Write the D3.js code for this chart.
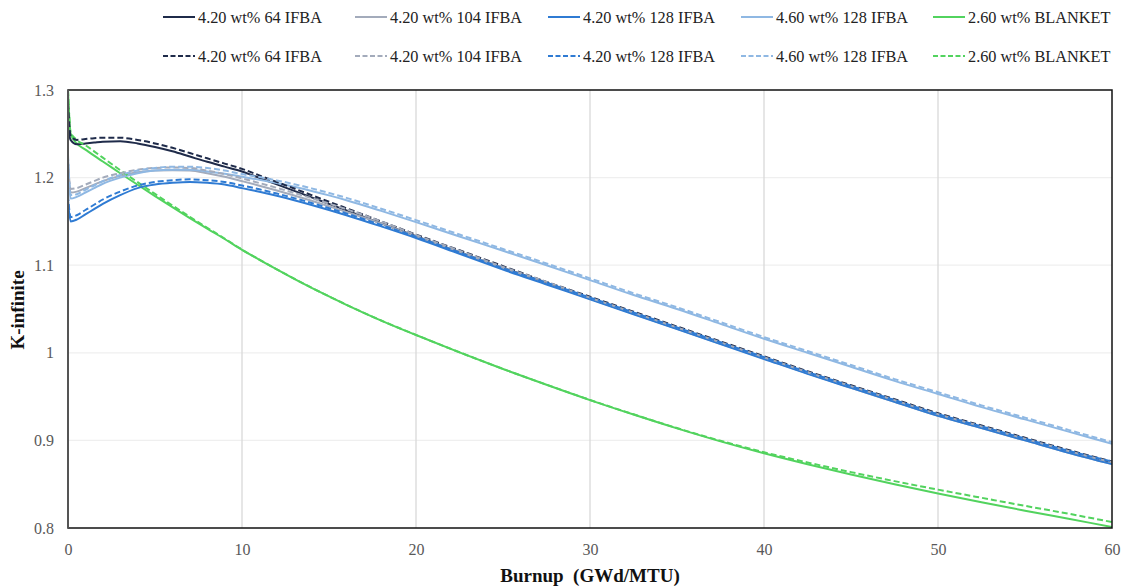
<!DOCTYPE html>
<html><head><meta charset="utf-8">
<script src="https://cdnjs.cloudflare.com/ajax/libs/d3/7.8.5/d3.min.js"></script>
<style>
html,body{margin:0;padding:0;background:#fff;}
svg text{font-family:"Liberation Serif","Times New Roman",serif;}
</style>
</head><body>
<svg id="chart" width="1124" height="588"></svg>
<script>
const burnup = [0,0.15,0.5,1,1.5,2,3,4,5,6,7,8,9,10,11,12,13,14,15,16,18,20,22.5,25,27.5,30,32.5,35,37.5,40,42.5,45,47.5,50,52.5,55,57.5,60];

const ifba64Solid  = [1.258,1.243,1.238,1.239,1.240,1.241,1.2415,1.239,1.235,1.230,1.224,1.218,1.2125,1.207,1.1996,1.1922,1.1848,1.1774,1.170,1.1626,1.1478,1.133,1.115,1.097,1.080,1.062,1.045,1.028,1.011,0.994,0.977,0.961,0.945,0.929,0.915,0.901,0.887,0.874];
const ifba64Dash   = [1.285,1.248,1.243,1.244,1.245,1.2455,1.2455,1.243,1.239,1.234,1.228,1.222,1.216,1.210,1.2025,1.195,1.1875,1.180,1.1725,1.165,1.150,1.135,1.117,1.099,1.081,1.064,1.047,1.030,1.013,0.996,0.979,0.963,0.947,0.931,0.917,0.903,0.889,0.876];
const ifba104Solid = [1.215,1.183,1.184,1.188,1.192,1.196,1.202,1.206,1.208,1.2085,1.208,1.205,1.201,1.196,1.1908,1.1853,1.1795,1.1735,1.1673,1.1609,1.1477,1.1325,1.1148,1.0968,1.0792,1.0615,1.0444,1.0274,1.0104,0.9934,0.9765,0.960,0.944,0.928,0.914,0.900,0.886,0.873];
const ifba104Dash  = [1.220,1.187,1.188,1.192,1.196,1.200,1.205,1.209,1.211,1.2115,1.211,1.208,1.204,1.199,1.1938,1.1883,1.1825,1.1765,1.1703,1.1639,1.150,1.1345,1.1165,1.098,1.081,1.063,1.046,1.029,1.012,0.995,0.978,0.962,0.946,0.930,0.916,0.902,0.888,0.875];
const ifba128Solid = [1.175,1.150,1.152,1.158,1.164,1.170,1.180,1.188,1.192,1.194,1.195,1.194,1.192,1.188,1.1838,1.1792,1.1742,1.1688,1.1631,1.1571,1.1443,1.131,1.113,1.095,1.078,1.061,1.044,1.027,1.010,0.993,0.976,0.960,0.944,0.928,0.914,0.900,0.886,0.873];
const ifba128Dash  = [1.180,1.155,1.157,1.163,1.169,1.175,1.184,1.191,1.195,1.197,1.198,1.197,1.195,1.191,1.1866,1.1818,1.1766,1.171,1.1651,1.159,1.1459,1.1325,1.1145,1.0965,1.080,1.063,1.046,1.029,1.012,0.995,0.978,0.962,0.946,0.930,0.916,0.902,0.888,0.876];
const e460Solid    = [1.222,1.176,1.178,1.183,1.188,1.193,1.200,1.205,1.208,1.209,1.209,1.207,1.2045,1.201,1.1976,1.1938,1.1895,1.1848,1.1797,1.1742,1.162,1.1492,1.1327,1.1165,1.100,1.083,1.066,1.050,1.033,1.016,1.000,0.984,0.968,0.953,0.938,0.924,0.910,0.896];
const e460Dash     = [1.226,1.180,1.181,1.186,1.191,1.196,1.203,1.208,1.211,1.2125,1.2125,1.211,1.208,1.204,1.2006,1.1968,1.1925,1.1877,1.1825,1.1769,1.1645,1.1515,1.135,1.1185,1.102,1.085,1.068,1.052,1.035,1.018,1.002,0.986,0.970,0.955,0.940,0.926,0.912,0.898];
const blanketSolid = [1.300,1.250,1.239,1.232,1.225,1.2184,1.205,1.1918,1.1789,1.1662,1.1538,1.1417,1.1299,1.1175,1.1062,1.0952,1.0845,1.0742,1.0643,1.0548,1.0368,1.0203,1.0005,0.9815,0.9635,0.946,0.9295,0.9137,0.8989,0.8853,0.8728,0.861,0.850,0.8395,0.8295,0.8198,0.8105,0.8012];
const blanketDash  = [1.300,1.252,1.243,1.237,1.230,1.2228,1.2085,1.1948,1.1814,1.1682,1.1553,1.1427,1.1305,1.1178,1.1064,1.0953,1.0846,1.0743,1.0644,1.0549,1.0369,1.0204,1.0006,0.9816,0.9636,0.9462,0.9298,0.9141,0.8996,0.8865,0.8748,0.8638,0.8535,0.8438,0.8345,0.8253,0.8163,0.8068];

const seriesNames = ["4.20 wt% 64 IFBA","4.20 wt% 104 IFBA","4.20 wt% 128 IFBA","4.60 wt% 128 IFBA","2.60 wt% BLANKET"];
const seriesColors = ["#1f2b4a","#a3abbb","#2f7bd3","#8fb8e3","#52d35e"];
const solidValues = [ifba64Solid, ifba104Solid, ifba128Solid, e460Solid, blanketSolid];
const dashValues  = [ifba64Dash, ifba104Dash, ifba128Dash, e460Dash, blanketDash];

const xTicks = [0,10,20,30,40,50,60];
const yTicks = [0.8,0.9,1.0,1.1,1.2,1.3];
const yTickLabels = ["0.8","0.9","1","1.1","1.2","1.3"];

const svg = d3.select("#chart");
const L = 68, R = 1112, T = 90, B = 528;
const x = d3.scaleLinear().domain([0,60]).range([L,R]);
const y = d3.scaleLinear().domain([0.8,1.3]).range([B,T]);

// grid
svg.append("g").selectAll("line").data(yTicks.slice(1,-1)).join("line")
  .attr("x1",L).attr("x2",R).attr("y1",d=>y(d)).attr("y2",d=>y(d))
  .attr("stroke","#efefef").attr("stroke-width",1.2);
svg.append("g").selectAll("line").data(xTicks.slice(1,-1)).join("line")
  .attr("x1",d=>x(d)).attr("x2",d=>x(d)).attr("y1",T).attr("y2",B)
  .attr("stroke","#d9d9d9").attr("stroke-width",1.3);

// axes labels via d3 axes
const xAxis = svg.append("g").attr("transform",`translate(0,${B})`)
  .call(d3.axisBottom(x).tickValues(xTicks).tickSize(0).tickPadding(16).tickFormat(d3.format("d")));
xAxis.select(".domain").remove();
xAxis.selectAll("text").attr("font-size",16).attr("fill","#595959")
  .style("font-family","'Liberation Serif',serif");

const yAxis = svg.append("g").attr("transform",`translate(${L},0)`)
  .call(d3.axisLeft(y).tickValues(yTicks).tickSize(0).tickPadding(14).tickFormat((d,i)=>yTickLabels[i]));
yAxis.select(".domain").remove();
yAxis.selectAll("text").attr("font-size",16).attr("fill","#595959")
  .style("font-family","'Liberation Serif',serif");

// lines
svg.append("clipPath").attr("id","clp").append("rect")
  .attr("x",L).attr("y",T-1).attr("width",R-L).attr("height",B-T+2);
const lineGen = d3.line().x((d,i)=>x(burnup[i])).y(d=>y(d)).curve(d3.curveMonotoneX);
const plotG = svg.append("g").attr("clip-path","url(#clp)");
const order = [4,0,1,3,2];
order.forEach(i=>{
  plotG.append("path").datum(solidValues[i]).attr("d",lineGen)
    .attr("fill","none").attr("stroke",seriesColors[i]).attr("stroke-width",2);
});
order.forEach(i=>{
  plotG.append("path").datum(dashValues[i]).attr("d",lineGen)
    .attr("fill","none").attr("stroke",seriesColors[i]).attr("stroke-width",2)
    .attr("stroke-dasharray","6,3");
});

// frame
svg.append("rect").attr("x",L).attr("y",T).attr("width",R-L).attr("height",B-T)
  .attr("fill","none").attr("stroke","#111").attr("stroke-width",1.5);
svg.append("line").attr("x1",L).attr("x2",L).attr("y1",T).attr("y2",B)
  .attr("stroke","#555").attr("stroke-width",2);

// axis titles
svg.append("text").attr("x",(L+R)/2).attr("y",582).attr("text-anchor","middle")
  .attr("font-size",19).attr("font-weight","bold").attr("fill","#111")
  .text("Burnup\u00a0 (GWd/MTU)");
svg.append("text").attr("transform","translate(24,310) rotate(-90)").attr("text-anchor","middle")
  .attr("font-size",19).attr("font-weight","bold").attr("fill","#111").text("K-infinite");

// legend
const legX = [163,355,548,741,933];
const legRows = [{y:17,dash:null},{y:56,dash:"5,2.5"}];
legRows.forEach(row=>{
  seriesNames.forEach((n,i)=>{
    const g = svg.append("g").attr("transform",`translate(${legX[i]},${row.y})`);
    g.append("line").attr("x1",0).attr("x2",32).attr("y1",0).attr("y2",0)
      .attr("stroke",seriesColors[i]).attr("stroke-width",2)
      .attr("stroke-dasharray",row.dash);
    g.append("text").attr("x",35).attr("y",5.5).attr("font-size",16.3).attr("fill","#222").text(n);
  });
});
</script>
</body></html>
